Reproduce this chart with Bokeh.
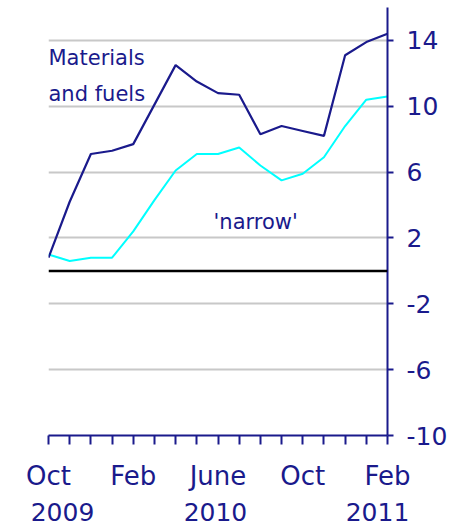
from bokeh.plotting import figure
from bokeh.models import LinearAxis, FixedTicker, Span, Range1d
from bokeh.core.properties import value
from bokeh.embed import file_html
from bokeh.resources import INLINE

# month index 0 = Oct 2009 ... 16 = Feb 2011
months = list(range(17))
materials_fuels = [0.8, 4.2, 7.1, 7.3, 7.7, 10.1, 12.5, 11.5, 10.8, 10.7,
                   8.3, 8.8, 8.5, 8.2, 13.1, 13.9, 14.4]
narrow = [1.0, 0.6, 0.8, 0.8, 2.4, 4.3, 6.1, 7.1, 7.1, 7.5,
          6.4, 5.5, 5.9, 6.9, 8.8, 10.4, 10.6]
month_labels = {0: "Oct", 4: "Feb", 8: "June", 12: "Oct", 16: "Feb"}
year_labels = ["2009", "2010", "2011"]
year_label_pos = [0.66, 7.88, 15.53]
y_ticks = [-10, -6, -2, 2, 6, 10, 14]

NAVY = "#1a1a8c"
FONT = "DejaVu Sans"

p = figure(width=464, height=529, output_backend="svg", toolbar_location=None,
           x_range=Range1d(0, 16), y_range=Range1d(-10, 16),
           x_axis_location="below", y_axis_location="right",
           min_border_left=48, min_border_right=77, min_border_top=7,
           min_border_bottom=94)
p.outline_line_color = None
p.background_fill_color = "white"
p.border_fill_color = "white"

# y axis (right)
ya = p.yaxis[0]
ya.ticker = FixedTicker(ticks=y_ticks)
ya.major_label_overrides = {t: str(t) for t in y_ticks}
ya.axis_line_color = NAVY
ya.axis_line_width = 2
ya.major_tick_line_color = NAVY
ya.major_tick_line_width = 2
ya.major_tick_out = 6
ya.major_tick_in = 0
ya.minor_tick_line_color = None
ya.major_label_text_color = NAVY
ya.major_label_text_font = FONT
ya.major_label_text_font_size = "25px"
ya.major_label_standoff = 13

# x axis (months)
xa = p.xaxis[0]
xa.ticker = FixedTicker(ticks=months)
xa.major_label_overrides = {m: month_labels.get(m, "") for m in months}
xa.axis_line_color = NAVY
xa.axis_line_width = 2
xa.major_tick_line_color = NAVY
xa.major_tick_line_width = 2
xa.major_tick_out = 9
xa.major_tick_in = 0
xa.minor_tick_line_color = None
xa.major_label_text_color = NAVY
xa.major_label_text_font = FONT
xa.major_label_text_font_size = "26px"
xa.major_label_standoff = 16

# second x axis (years)
xa2 = LinearAxis(ticker=FixedTicker(ticks=year_label_pos),
                 major_label_overrides={pos: lab for pos, lab in zip(year_label_pos, year_labels)})
xa2.axis_line_color = None
xa2.major_tick_line_color = None
xa2.minor_tick_line_color = None
xa2.major_tick_out = 0
xa2.major_tick_in = 0
xa2.major_label_text_color = NAVY
xa2.major_label_text_font = FONT
xa2.major_label_text_font_size = "25px"
xa2.major_label_standoff = 9
p.add_layout(xa2, "below")

p.xgrid.grid_line_color = None
p.ygrid.ticker = FixedTicker(ticks=[t for t in y_ticks if t != -10])
p.ygrid.grid_line_color = "#c8c8c8"
p.ygrid.grid_line_width = 2

p.add_layout(Span(location=0, dimension="width", line_color="black", line_width=2.5))

p.line(months, narrow, line_color="#00ffff", line_width=2)
p.line(months, materials_fuels, line_color=NAVY, line_width=2.2)

p.text(x=[0, 0], y=[12.94, 10.77], text=["Materials", "and fuels"],
       text_font=value(FONT), text_font_size="21px", text_color=NAVY,
       text_baseline="alphabetic", text_align="left")
p.text(x=[7.79], y=[2.95], text=["'narrow'"],
       text_font=value(FONT), text_font_size="21px", text_color=NAVY,
       text_baseline="alphabetic", text_align="left")

open("out.html", "w").write(file_html(p, INLINE))
